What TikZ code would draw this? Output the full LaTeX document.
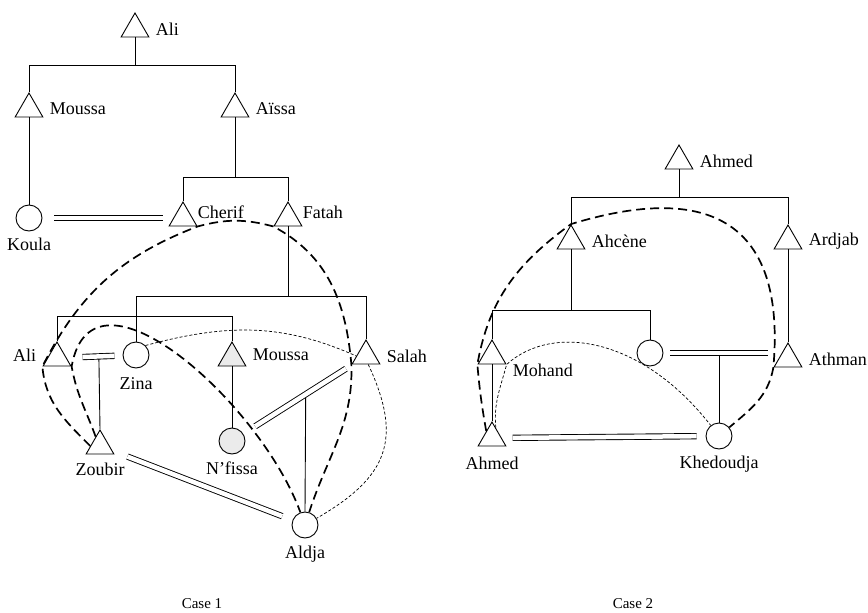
\documentclass[tikz,border=0pt]{standalone}
\usepackage{fontspec}
\setmainfont{Liberation Serif}
\usetikzlibrary{shapes.geometric,calc}
\begin{document}
\begin{tikzpicture}[x=1pt,y=1pt,
  man/.style={draw, regular polygon, regular polygon sides=3, minimum size=32pt, inner sep=0pt, line width=0.9pt},
  woman/.style={draw, circle, minimum size=26pt, inner sep=0pt, line width=0.9pt},
  lbl/.style={font=\fontsize{18}{20}\selectfont, inner sep=1pt},
  casetext/.style={font=\fontsize{15}{17}\selectfont, inner sep=1pt},
  kin/.style={line width=0.9pt},
  wed/.style={double, double distance=4.5pt, line width=0.9pt},
  link/.style={line width=1.7pt, dash pattern=on 9pt off 5pt},
  weak/.style={line width=0.7pt, dash pattern=on 3pt off 2pt},
  label distance=10pt]
\useasboundingbox (0,0) rectangle (868,-613);

% case 1
\node[man, label={[lbl]right:Ali}] (ali1) at (135,-29) {};
\node[man, label={[lbl]right:Moussa}] (moussa1) at (29,-109) {};
\node[man, label={[lbl]right:Aïssa}] (aissa) at (235,-109) {};
\node[woman, label={[lbl,yshift=5pt]below:Koula}] (koula) at (29,-218) {};
\node[man, label={[lbl,xshift=-6pt,yshift=6pt]right:Cherif}] (cherif) at (183,-218) {};
\node[man, label={[lbl,xshift=-6pt,yshift=6pt]right:Fatah}] (fatah) at (288,-218) {};
\node[man, label={[lbl,yshift=3pt]left:Ali}] (ali2) at (57,-358) {};
\node[woman, label={[lbl,yshift=2pt]below:Zina}] (zina) at (136,-355) {};
\node[man, fill=black!8, label={[lbl,yshift=3pt]right:Moussa}] (moussa2) at (232,-358) {};
\node[man, label={[lbl]right:Salah}] (salah) at (366,-356) {};
\node[man, label={[lbl,yshift=3pt]below:Zoubir}] (zoubir) at (100,-446) {};
\node[woman, fill=black!8, label={[lbl,yshift=4pt]below:N’fissa}] (nfissa) at (232,-441) {};
\node[woman, label={[lbl,yshift=3.5pt]below:Aldja}] (aldja) at (305,-525) {};

\path[draw,kin] (ali1.south) -- ++(0,-28) coordinate (b1);
\path[draw,kin] (moussa1.corner 1) |- (b1) -| (aissa.corner 1);
\path[draw,kin] (moussa1.south) -- (koula.north);
\path[draw,kin] (aissa.south) -- ++(0,-60) coordinate (b2);
\path[draw,kin] (cherif.corner 1) |- (b2) -| (fatah.corner 1);
\path[draw,kin] (fatah.south) -- ++(0,-70) coordinate (b3);
\path[draw,kin] (zina.north) |- (b3) -| (salah.corner 1);
\path[draw,kin] (ali2.corner 1) -- ++(0,25) -| (moussa2.corner 1);
\path[draw,kin] (moussa2.south) -- (nfissa.north);
\path[draw,kin] ($(ali2)!0.53!(zina)$) -- (zoubir.corner 1);
\path[draw,kin] ($(nfissa)!0.55!(salah)$) -- (aldja.north);

\path[draw,wed,shorten <=12pt,shorten >=10pt] (koula) -- (cherif);
\path[draw,wed,shorten <=16pt,shorten >=8pt] (ali2) -- (zina);
\path[draw,wed,shorten <=14pt,shorten >=8pt] (nfissa) -- (salah);
\path[draw,wed,shorten <=16pt,shorten >=11pt] (zoubir) -- (aldja);

\path[draw,link] (zoubir.west) to[out=135,in=-85] (ali2.corner 2)
  to[out=63,in=201] (cherif.corner 3) to[out=15,in=165] (fatah.corner 2)
  to[out=-28,in=95] (salah.corner 2) to[out=-88,in=72] (aldja);
\path[draw,link] (zoubir.115) to[out=110,in=-80] (ali2.corner 3)
  to[out=80,in=110,looseness=1.1] (aldja);
\path[draw,weak] (zina.45) to[out=15,in=156] (salah.west);
\path[draw,weak] (salah.-75) to[out=-65,in=30,looseness=1.3] (aldja);

% case 2
\node[man, label={[lbl]right:Ahmed}] (ahmed1) at (679,-161) {};
\node[man, label={[lbl]right:Ahcène}] (ahcene) at (571,-241) {};
\node[man, label={[lbl]right:Ardjab}] (ardjab) at (788,-241) {};
\node[man, label={[lbl,yshift=-14pt]right:Mohand}] (mohand) at (492,-356) {};
\node[woman] (wife) at (650,-353) {};
\node[man, label={[lbl]right:Athman}] (athman) at (788,-359) {};
\node[man, label={[lbl,yshift=1pt]below:Ahmed}] (ahmed2) at (492,-438) {};
\node[woman, label={[lbl,yshift=4.5pt]below:Khedoudja}] (khedoudja) at (719,-436) {};

\path[draw,kin] (ahmed1.south) -- ++(0,-28) coordinate (b5);
\path[draw,kin] (ahcene.corner 1) |- (b5) -| (ardjab.corner 1);
\path[draw,kin] (ahcene.south) -- ++(0,-61) coordinate (b6);
\path[draw,kin] (mohand.corner 1) |- (b6) -| (wife.north);
\path[draw,kin] (ardjab.south) -- (athman.corner 1);
\path[draw,kin] (mohand.south) -- (ahmed2.corner 1);
\path[draw,kin] ($(wife)!0.5!(athman)$) -- (khedoudja.north);

\path[draw,wed,shorten <=7pt,shorten >=20pt] (wife) -- (wife -| athman);
\path[draw,wed,shorten <=11pt,shorten >=9pt] (ahmed2) -- (khedoudja);

\path[draw,link] (ahmed2.130) to[out=100,in=-85] (mohand.corner 2)
  to[out=80,in=216] (ahcene.corner 1) to[out=17,in=85,looseness=1.5] (athman.corner 2)
  to[out=-100,in=40] (khedoudja);
\path[draw,weak] (ahmed2.70) to[out=95,in=-105] (mohand.corner 3)
  to[out=42,in=128,out distance=62pt,in distance=112pt] (khedoudja);

\node[casetext] (case1) at (202,-604) {Case 1};
\node[casetext] (case2) at (633,-604) {Case 2};
\end{tikzpicture}
\end{document}
